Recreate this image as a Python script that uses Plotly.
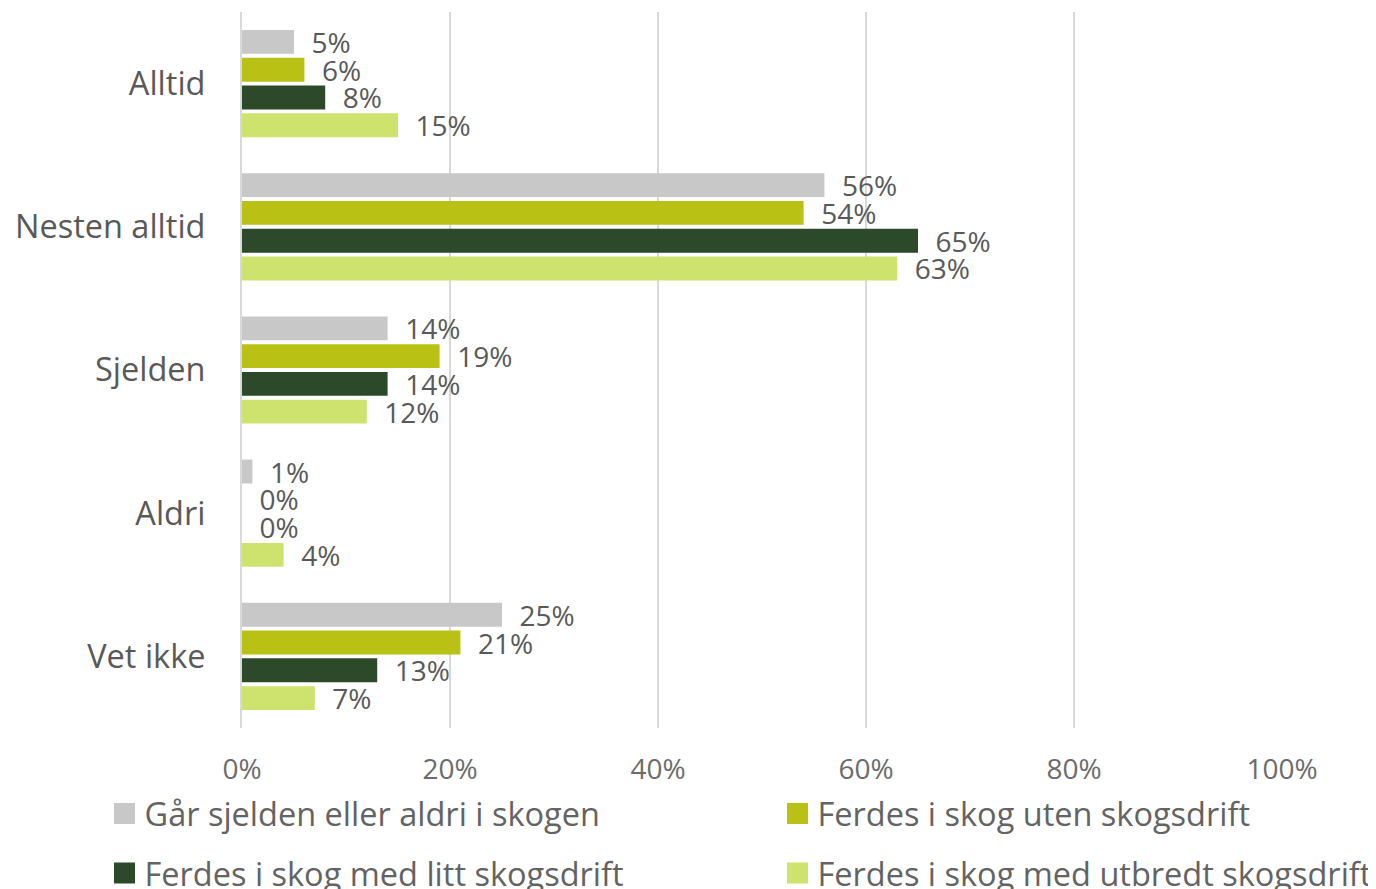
import plotly.graph_objects as go

categories = ["Alltid", "Nesten alltid", "Sjelden", "Aldri", "Vet ikke"]
series_names = [
    "Går sjelden eller aldri i skogen",
    "Ferdes i skog uten skogsdrift",
    "Ferdes i skog med litt skogsdrift",
    "Ferdes i skog med utbredt skogsdrift",
]
grey_vals = [5, 56, 14, 1, 25]
olive_vals = [6, 54, 19, 0, 21]
dark_vals = [8, 65, 14, 0, 13]
light_vals = [15, 63, 12, 4, 7]
x_ticks = [0, 20, 40, 60, 80, 100]
x_ticktext = ["0%", "20%", "40%", "60%", "80%", "100%"]

colors = ["#C8C8C8", "#B9C114", "#2C4A2A", "#CDE36E"]
values = [grey_vals, olive_vals, dark_vals, light_vals]

FONT = "Open Sans"
TXT = "#595959"
FS_TEXT = 32.5
FS_NUM = 28

fig = go.Figure()
for name, vals, col in zip(series_names, values, colors):
    fig.add_trace(go.Bar(
        y=categories, x=vals, orientation="h", name=name,
        marker=dict(color=col, line=dict(width=0)),
        text=[f"\u00a0\u00a0{v}%" for v in vals],
        textposition="outside", constraintext="none", cliponaxis=False,
        outsidetextfont=dict(family=FONT, size=FS_NUM, color=TXT),
        showlegend=False, hoverinfo="skip",
    ))

legend_ids = ["legend", "legend2", "legend3", "legend4"]
for name, col, lg in zip(series_names, colors, legend_ids):
    fig.add_trace(go.Scatter(
        x=[None], y=[None], mode="markers", name=name,
        marker=dict(symbol="square", size=16, color=col,
                    line=dict(color=col, width=5)),
        legend=lg, showlegend=True,
    ))

legend_common = dict(
    orientation="h", xanchor="left", yanchor="middle",
    font=dict(family=FONT, size=FS_TEXT, color="#636363"),
    bgcolor="rgba(0,0,0,0)", itemclick=False, itemdoubleclick=False,
)
col1_x, col2_x = -0.1322, 0.5149
row1_y, row2_y = -0.1201, -0.2032

fig.update_layout(
    width=1376, height=889,
    margin=dict(l=234, r=102, t=4, b=169, autoexpand=False),
    paper_bgcolor="white", plot_bgcolor="white",
    barmode="group", bargap=0.224, bargroupgap=0.14,
    font=dict(family=FONT, size=FS_TEXT, color=TXT),
    xaxis=dict(
        range=[0, 100], tickvals=x_ticks, ticktext=x_ticktext,
        showgrid=True, gridcolor="#D9D9D9", gridwidth=2,
        zeroline=False, showline=False, ticks="", automargin=False,
        tickfont=dict(family=FONT, size=FS_NUM, color="#6B6B6B"),
        ticklabelstandoff=22,
    ),
    yaxis=dict(
        categoryorder="array", categoryarray=categories,
        autorange="reversed", showgrid=False, zeroline=False,
        showline=True, linecolor="#D9D9D9", linewidth=2, ticks="",
        automargin=False,
        tickfont=dict(family=FONT, size=FS_TEXT, color=TXT),
        ticklabelstandoff=28,
    ),
    legend=dict(x=col1_x, y=row1_y, **legend_common),
    legend2=dict(x=col2_x, y=row1_y, **legend_common),
    legend3=dict(x=col1_x, y=row2_y, **legend_common),
    legend4=dict(x=col2_x, y=row2_y, **legend_common),
)

fig.write_html("out.html")
